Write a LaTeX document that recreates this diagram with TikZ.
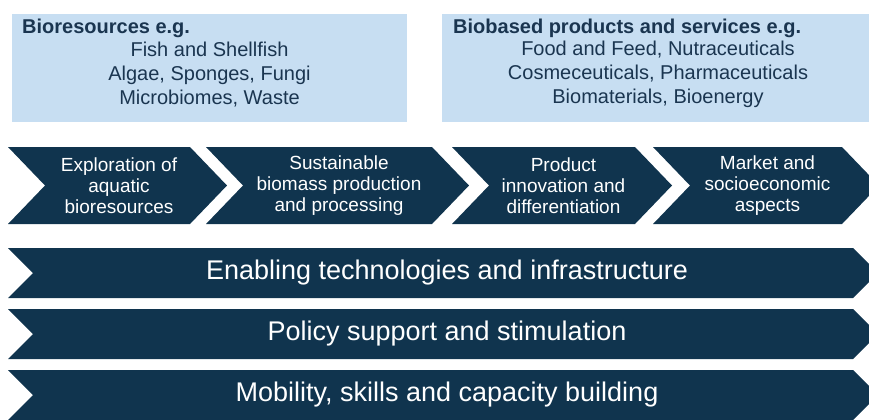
\documentclass[tikz,border=0pt]{standalone}
\usepackage{fontspec}
\setmainfont{Liberation Sans}
\usepackage{tikz}
\definecolor{navy}{HTML}{10344E}
\definecolor{paleblue}{HTML}{C7DEF2}
\definecolor{boxtext}{HTML}{1A3550}
\tikzstyle{infobox}=[rectangle,fill=paleblue,inner sep=0pt]
\tikzstyle{boxtitle}=[font=\fontsize{20bp}{24bp}\selectfont\bfseries,text=boxtext,inner sep=0pt]
\tikzstyle{boxlist}=[font=\fontsize{20bp}{24bp}\selectfont,text=boxtext,align=center,inner sep=0pt]
\tikzstyle{chev}=[fill=navy]
\tikzstyle{steptext}=[font=\fontsize{19bp}{21bp}\selectfont,text=white,align=center,inner sep=0pt]
\tikzstyle{bartext}=[font=\fontsize{27bp}{30bp}\selectfont,text=white,inner sep=0pt]

\begin{document}
\begin{tikzpicture}[x=1bp,y=-1bp]

    \useasboundingbox (0,0) rectangle (869,419);
    \clip (0,0) rectangle (869,419);

    % top boxes
    \node[infobox, minimum width=395bp, minimum height=108bp] (res) at (209.5,68) {};
    \node[infobox, minimum width=438bp, minimum height=108bp] (prod) at (661,68) {};
    \node[boxtitle, anchor=base west] (restitle) at (22,33) {Bioresources e.g.};
    \node[boxtitle, anchor=base west] (prodtitle) at (453,33) {Biobased products and services e.g.};
    \node[boxlist] (reslist) at (209.5,74.5) {Fish and Shellfish\\Algae, Sponges, Fungi\\Microbiomes, Waste};
    \node[boxlist] (prodlist) at (658,74.5) {Food and Feed, Nutraceuticals\\Cosmeceuticals, Pharmaceuticals\\Biomaterials, Bioenergy};

    % value chain
    \foreach \a/\b/\name/\txt in {8/190/explore/{Exploration of\\aquatic\\bioresources},
        206/432/biomass/{Sustainable\\biomass production\\and processing},
        452/635/innov/{Product\\innovation and\\differentiation},
        653/842/market/{Market and\\socioeconomic\\aspects}}
    {
        \fill[chev] (\a,147) -- (\b,147) -- (\b+37,185.5) -- (\b,224) -- (\a,224) -- (\a+37,185.5) -- cycle;
        \node[steptext] (\name) at ({(\a+\b)/2+20},186) {\txt};
    }

    % cross-cutting bars
    \foreach \y/\name/\txt in {248/enable/{Enabling technologies and infrastructure},
        309/policy/{Policy support and stimulation},
        370/mobility/{Mobility, skills and capacity building}}
    {
        \fill[chev] (8,\y) -- (853,\y) -- (878,\y+25) -- (853,\y+50) -- (8,\y+50) -- (33,\y+25) -- cycle;
        \node[bartext] (\name) at (447,\y+25) {\txt};
    }

\end{tikzpicture}
\end{document}
